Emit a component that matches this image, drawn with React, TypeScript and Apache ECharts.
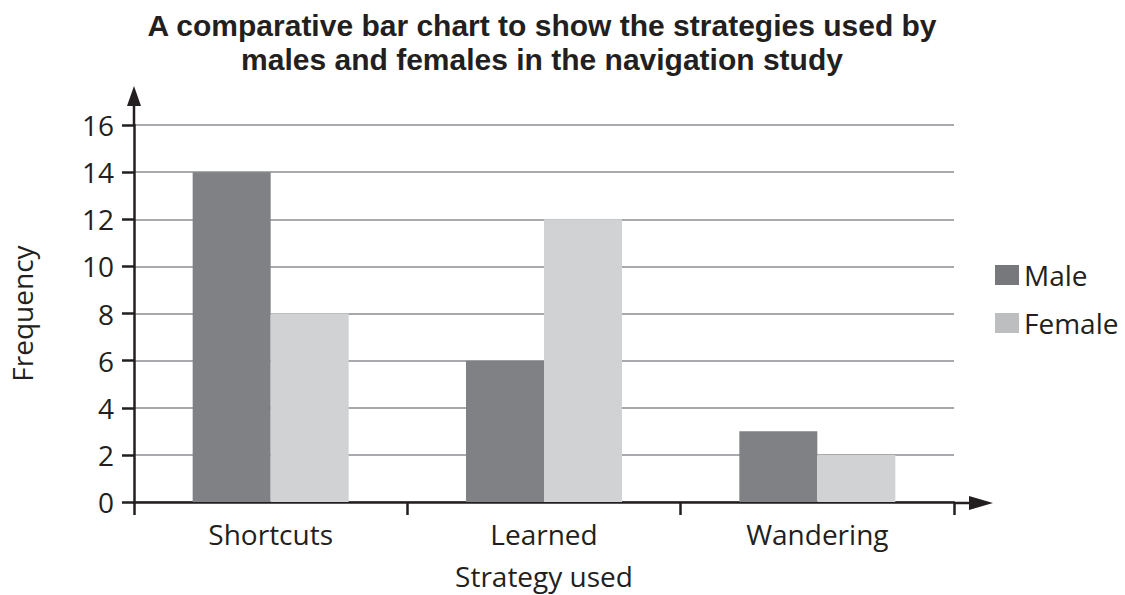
import React, { useEffect, useRef } from "react";
import * as echarts from "echarts";

const categories = ["Shortcuts", "Learned", "Wandering"];
const maleValues = [14, 6, 3];
const femaleValues = [8, 12, 2];
const yTicks = { min: 0, max: 16, interval: 2 };
const titleLines = [
  "A comparative bar chart to show the strategies used by",
  "males and females in the navigation study",
];

const FONT = "'Open Sans', 'Noto Sans', sans-serif";
const TITLE_FONT = "'Liberation Sans', Roboto, sans-serif";
const INK = "#231f20";

export default function App() {
  const ref = useRef<HTMLDivElement>(null);
  useEffect(() => {
    if (!ref.current) return;
    const chart = echarts.init(ref.current, null, { renderer: "svg" });
    chart.setOption({
      animation: false,
      backgroundColor: "#ffffff",
      textStyle: { fontFamily: FONT, color: INK },
      title: titleLines.map((t, i) => ({
        text: t,
        left: 542,
        textAlign: "center",
        top: 9 + i * 34,
        padding: 0,
        textStyle: { fontFamily: TITLE_FONT, fontWeight: "bold", fontSize: 30, lineHeight: 32, color: INK },
      })),
      legend: {
        orient: "vertical",
        left: 990,
        top: 256,
        itemWidth: 24,
        itemHeight: 20,
        itemGap: 20,
        icon: "rect",
        textStyle: { fontFamily: FONT, fontSize: 28, color: INK, padding: [0, 0, 0, 0] },
        data: [
          { name: "Male", itemStyle: { color: "#77787b" } },
          { name: "Female", itemStyle: { color: "#bcbec0" } },
        ],
      },
      grid: { left: 134, right: 171, top: 125, bottom: 92, containLabel: false },
      xAxis: {
        type: "category",
        data: categories,
        name: "Strategy used",
        nameLocation: "middle",
        nameGap: 60,
        nameTextStyle: { fontFamily: FONT, fontSize: 28, color: INK },
        axisLine: { show: true, lineStyle: { color: INK, width: 2.5 } },
        axisTick: { show: true, alignWithLabel: false, length: 13, lineStyle: { color: INK, width: 2.5 } },
        axisLabel: { fontFamily: FONT, fontSize: 28, color: INK, margin: 18 },
        splitLine: { show: false },
      },
      yAxis: {
        type: "value",
        min: yTicks.min,
        max: yTicks.max,
        interval: yTicks.interval,
        name: "Frequency",
        nameLocation: "middle",
        nameGap: 98,
        nameRotate: 90,
        nameTextStyle: { fontFamily: FONT, fontSize: 28, color: INK },
        axisLine: { show: true, lineStyle: { color: INK, width: 2.5 } },
        axisTick: { show: true, length: 12, lineStyle: { color: INK, width: 2.5 } },
        axisLabel: { fontFamily: FONT, fontSize: 28, color: INK, margin: 20 },
        splitLine: { show: true, lineStyle: { color: "#a7a9ac", width: 2 } },
      },
      series: [
        {
          name: "Male",
          type: "bar",
          data: maleValues,
          barWidth: 78,
          barGap: "0%",
          itemStyle: { color: "#808184" },
          z: 1,
        },
        {
          name: "Female",
          type: "bar",
          data: femaleValues,
          barWidth: 78,
          barGap: "0%",
          itemStyle: { color: "#d1d2d4" },
          z: 1,
        },
      ],
      graphic: [
        { type: "line", shape: { x1: 134, y1: 125, x2: 134, y2: 100 }, style: { stroke: INK, lineWidth: 2.5 }, z: 10 },
        { type: "polygon", shape: { points: [[134, 86], [127, 106], [141, 106]] }, style: { fill: INK }, z: 10 },
        { type: "line", shape: { x1: 954, y1: 503, x2: 975, y2: 503 }, style: { stroke: INK, lineWidth: 2.5 }, z: 10 },
        { type: "polygon", shape: { points: [[993, 503], [969, 496], [969, 510]] }, style: { fill: INK }, z: 10 },
      ],
    });
    return () => chart.dispose();
  }, []);
  return <div ref={ref} style={{ width: 1125, height: 595, position: "absolute", left: 0, top: 0 }} />;
}
